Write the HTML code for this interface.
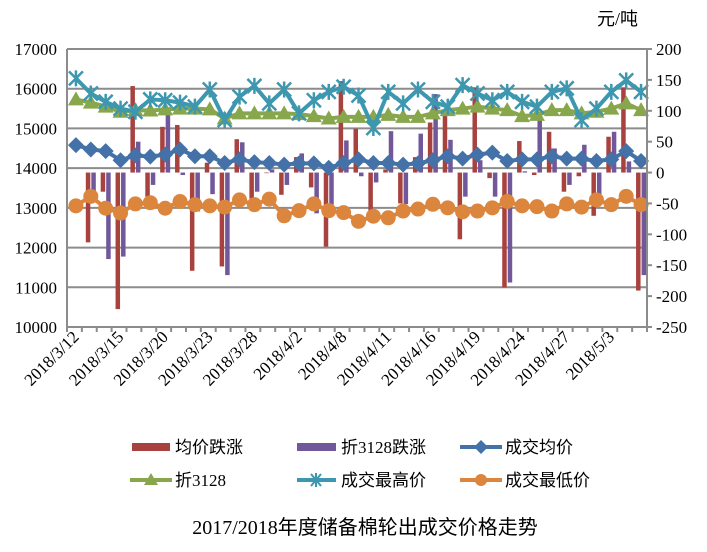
<!DOCTYPE html>
<html><head><meta charset="utf-8"><style>
html,body{margin:0;padding:0;background:#fff;}
svg text{font-family:"Liberation Serif","Noto Sans CJK SC",serif;fill:#000;}
</style></head><body>
<svg id="chart" width="707" height="547" viewBox="0 0 707 547" xmlns="http://www.w3.org/2000/svg">
<g id="grid"></g>
<g id="bars"></g>
<g id="lines"></g>
<g id="axes"></g>
<text x="597" y="25" font-size="18">元/吨</text>
<g>
 <g><rect x="132" y="443" width="38" height="8" fill="#A8423F"/><text x="175" y="453" font-size="17">均价跌涨</text></g>
 <g><rect x="297" y="443" width="39" height="8" fill="#71589B"/><text x="341" y="453" font-size="17">折3128跌涨</text></g>
 <g><line x1="460" y1="447" x2="502" y2="447" stroke="#4472A8" stroke-width="4"/><path d="M481 440 L488 447 L481 454 L474 447Z" fill="#4472A8"/><text x="505" y="453" font-size="17">成交均价</text></g>
 <g><line x1="130" y1="480" x2="172" y2="480" stroke="#88A64C" stroke-width="4"/><path d="M151 473 L158 485 L144 485Z" fill="#88A64C"/><text x="175" y="486" font-size="17">折3128</text></g>
 <g><line x1="297" y1="480" x2="336" y2="480" stroke="#3D97AF" stroke-width="4"/><path d="M311 474 L321 486 M321 474 L311 486 M316 473 L316 487" stroke="#3D97AF" stroke-width="2"/><text x="341" y="486" font-size="17">成交最高价</text></g>
 <g><line x1="460" y1="480" x2="502" y2="480" stroke="#DC853D" stroke-width="4"/><circle cx="481" cy="480" r="6" fill="#DC853D"/><text x="505" y="486" font-size="17">成交最低价</text></g>
</g>
<text x="365" y="534" font-size="20" text-anchor="middle">2017/2018年度储备棉轮出成交价格走势</text>
</svg>
<script>
const categories=["2018/3/12","","","2018/3/15","","","2018/3/20","","","2018/3/23","","","2018/3/28","","","2018/4/2","","","2018/4/8","","","2018/4/11","","","2018/4/16","","","2018/4/19","","","2018/4/24","","","2018/4/27","","","2018/5/3","",""];
const avgChange=[0,-113,-31,-221,140,-39,74,77,-159,16,-152,54,-42,-1,-36,25,-24,-120,148,71,-63,5,-50,25,81,96,-108,138,-9,-186,51,-4,66,-31,-6,-70,58,138,-191];
const change3128=[0,-31,-140,-136,50,-20,99,-4,-63,-35,-166,49,-31,5,-20,31,-66,-52,52,-6,-16,67,-51,63,127,53,-39,20,-39,-178,2,87,39,-20,45,-44,66,18,-166];
const avgPrice=[14580,14470,14430,14200,14320,14290,14340,14470,14300,14300,14130,14220,14150,14130,14090,14120,14120,14010,14130,14220,14130,14130,14090,14120,14200,14300,14240,14340,14390,14180,14220,14220,14300,14240,14240,14180,14220,14430,14180];
const price3128=[15730,15650,15550,15420,15460,15450,15480,15500,15500,15480,15250,15380,15380,15380,15380,15360,15310,15250,15290,15290,15290,15340,15290,15290,15380,15460,15500,15550,15500,15460,15310,15340,15460,15460,15380,15420,15500,15630,15460];
const maxPrice=[16260,15880,15670,15500,15420,15730,15710,15650,15550,15980,15210,15800,16070,15630,15980,15380,15710,15920,16050,15830,15010,15920,15630,15980,15670,15550,16090,15880,15710,15920,15670,15550,15920,16010,15210,15500,15920,16210,15920];
const minPrice=[13050,13290,12990,12870,13100,13130,12990,13160,13080,13050,13020,13200,13080,13220,12800,12930,13100,12930,12880,12660,12790,12750,12920,12970,13090,13000,12900,12920,13000,13160,13050,13030,12920,13100,13020,13200,13080,13290,13080];
const leftTicks=[10000,11000,12000,13000,14000,15000,16000,17000];
const rightTicks=[-250,-200,-150,-100,-50,0,50,100,150,200];

const NS="http://www.w3.org/2000/svg";
const X0=67,X1=647,Y0=49,Y1=327;
const n=categories.length, cw=(X1-X0)/n;
const xc=i=>X0+1.5+cw*(i+0.5);
const yL=v=>Y1-(v-10000)*(Y1-Y0)/7000;
const yR=v=>Y1-(v+250)*(Y1-Y0)/450;
function mk(tag,attrs,parent){const e=document.createElementNS(NS,tag);for(const k in attrs)e.setAttribute(k,attrs[k]);parent.appendChild(e);return e;}
const grid=document.getElementById('grid'),axes=document.getElementById('axes'),bars=document.getElementById('bars'),lines=document.getElementById('lines');
leftTicks.forEach(v=>{
 const g=mk('line',{x1:X0,x2:X1,y1:yL(v),y2:yL(v),stroke:'#8c8c8c','stroke-width':2},grid);
 
 
 const t=mk('text',{x:X0-10,y:yL(v)+6,'font-size':17,'text-anchor':'end'},axes);
 t.textContent=v;
 
 
});
rightTicks.forEach(v=>{
 mk('line',{x1:X1,x2:X1+5,y1:yR(v),y2:yR(v),stroke:'#8c8c8c','stroke-width':2},axes);
 const t=mk('text',{x:X1+9,y:yR(v)+6,'font-size':17},axes);
 t.textContent=v;
 
 
});
mk('line',{x1:X0,x2:X0,y1:Y0,y2:Y1+1,stroke:'#8c8c8c','stroke-width':2},axes);
mk('line',{x1:X1,x2:X1,y1:Y0,y2:Y1+1,stroke:'#8c8c8c','stroke-width':2},axes);
for(let i=0;i<=n;i++){mk('line',{x1:X0+cw*i,x2:X0+cw*i,y1:Y1,y2:Y1+5,stroke:'#8c8c8c','stroke-width':2},axes);}
categories.forEach((c,i)=>{
 if(!c)return;
 const x=xc(i)+4,y=Y1+11;
 const t=mk('text',{x:x,y:y,'font-size':17,'text-anchor':'end',transform:`rotate(-45 ${x} ${y})`},axes);
 t.textContent=c;
 
 
});
const bw=4.5, z=yR(0);
avgChange.forEach((v,i)=>{
 const y=yR(v);
 const r=mk('rect',{x:xc(i)-bw-0.5,y:Math.min(y,z),width:bw,height:Math.abs(y-z),fill:'#A8423F'},bars);
 
 
});
change3128.forEach((v,i)=>{
 const y=yR(v);
 const r=mk('rect',{x:xc(i)+0.5,y:Math.min(y,z),width:bw,height:Math.abs(y-z),fill:'#71589B'},bars);
 
 
});
function series(data,color,marker,name){
 const pts=data.map((v,i)=>[xc(i),yL(v)]);
 const p=mk('polyline',{points:pts.map(p=>p.join(',')).join(' '),fill:'none',stroke:color,'stroke-width':4,'stroke-linejoin':'round'},lines);
 
 
 pts.forEach(([x,y])=>{
  let m;
  if(marker==='diamond')m=mk('path',{d:`M${x} ${y-8}L${x+8} ${y}L${x} ${y+8}L${x-8} ${y}Z`,fill:color},lines);
  else if(marker==='tri')m=mk('path',{d:`M${x} ${y-8}L${x+8} ${y+6}L${x-8} ${y+6}Z`,fill:color},lines);
  else if(marker==='star')m=mk('path',{d:`M${x-7} ${y-7}L${x+7} ${y+7}M${x+7} ${y-7}L${x-7} ${y+7}M${x} ${y-8}L${x} ${y+8}`,stroke:color,'stroke-width':2.5},lines);
  else m=mk('circle',{cx:x,cy:y,r:7.5,fill:color},lines);
  
  
 });
}
series(price3128,'#88A64C','tri','price-3128');
series(maxPrice,'#3D97AF','star','max-price');
series(avgPrice,'#4472A8','diamond','avg-price');
series(minPrice,'#DC853D','circle','min-price');
</script>
</body></html>
